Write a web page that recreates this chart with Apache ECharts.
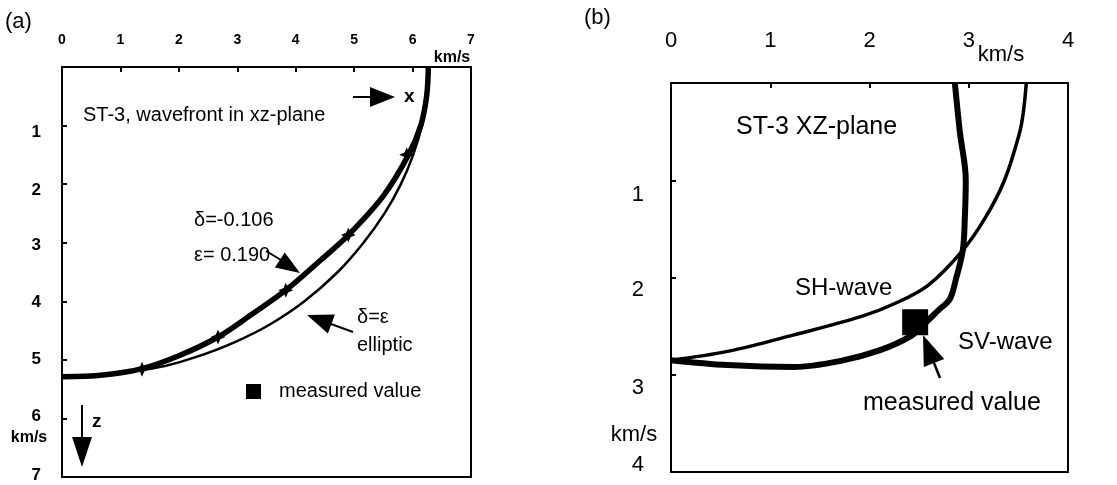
<!DOCTYPE html>
<html>
<head>
<meta charset="utf-8">
<script src="https://cdn.jsdelivr.net/npm/echarts@6/dist/echarts.min.js"></script>
<style>html,body{margin:0;padding:0;background:#fff}#c{width:1117px;height:485px}</style>
</head>
<body>
<div id="c"></div>
<script>
// ---- data ----
const xTicksA = ['0','1','2','3','4','5','6','7'];
const zTicksA = ['','1','2','3','4','5','6','7'];
const xTicksB = ['0','1','2','3','4'];
const zTicksB = ['','1','2','3','4'];

// panel (a): weak-anisotropy wavefront (delta=-0.106, eps=0.190), [x km/s, z km/s]
const anisoA = [[6.27,0],[6.24,0.5],[6.14,1.0],[5.93,1.5],[5.5,2.2],[4.9,2.87],[4.4,3.32],[3.83,3.81],[3.25,4.22],[2.67,4.61],[2.0,4.93],[1.37,5.15],[0.7,5.26],[0,5.29]];
// panel (a): elliptic wavefront (delta = eps)
const ellipticA = [[6.27,0],[6.24,0.5],[6.16,1.0],[6.01,1.5],[5.8,2.0],[5.52,2.5],[5.16,3.0],[4.72,3.5],[4.15,4.0],[3.55,4.4],[2.95,4.7],[2.3,4.95],[1.78,5.1],[1.2,5.2],[0.6,5.27],[0,5.29]];
// panel (a): markers on the anisotropic curve
const starsA = [[5.9,1.5],[4.9,2.87],[3.83,3.81],[2.67,4.61],[1.37,5.16]];

// panel (b): SV-wave and SH-wave wavefronts
const svB = [[2.86,0],[2.91,0.5],[2.97,1.0],[2.96,1.4],[2.94,1.72],[2.87,2.02],[2.81,2.22],[2.69,2.34],[2.55,2.48],[2.42,2.6],[2.1,2.75],[1.7,2.86],[1.24,2.92],[0.57,2.9],[0,2.85]];
const shB = [[3.58,0],[3.55,0.3],[3.51,0.52],[3.36,1.0],[3.17,1.38],[2.94,1.72],[2.59,2.08],[2.25,2.27],[1.92,2.4],[1.24,2.59],[0.57,2.76],[0,2.85]];
const measuredB = [[2.46,2.46]];

// ---- chart ----
const FONT = "'Liberation Sans', Arial, Helvetica, sans-serif";
const chart = echarts.init(document.getElementById('c'), null, {renderer: 'canvas'});

// per-label vertical nudges (scan layout)
const offA = [0, 7, 6, 3, 1, -1, -2, -2];
const offB = [0, 15, 12, 13, -7];
function richFor(offs, font) {
  const r = {};
  offs.forEach((o, i) => {
    r['o' + i] = Object.assign({}, font, {
      padding: o >= 0 ? [2 * o, 0, 0, 0] : [0, 0, -2 * o, 0]
    });
  });
  return r;
}
const yFontA = {fontFamily: FONT, fontSize: 17, fontWeight: 'bold', color: '#000'};
const yFontB = {fontFamily: FONT, fontSize: 22, color: '#000'};

function txt(text, x, y, size, opts) {
  opts = opts || {};
  return {
    type: 'text', z: 100,
    style: {
      text: text, x: x, y: y,
      font: (opts.bold ? 'bold ' : '') + size + 'px ' + FONT,
      fill: '#000', align: opts.align || 'left', verticalAlign: 'middle'
    }
  };
}
function poly(points) {
  return {type: 'polygon', z: 100, shape: {points: points}, style: {fill: '#000'}};
}
function seg(points, w) {
  return {type: 'polyline', z: 100, shape: {points: points}, style: {stroke: '#000', lineWidth: w || 2, fill: null}};
}

const option = {
  animation: false,
  backgroundColor: '#fff',
  grid: [
    {left: 62, top: 67, width: 409, height: 410, show: true, borderColor: '#000', borderWidth: 2, backgroundColor: 'transparent'},
    {left: 671, top: 83, width: 397, height: 389, show: true, borderColor: '#000', borderWidth: 2, backgroundColor: 'transparent'}
  ],
  xAxis: [
    {gridIndex: 0, type: 'value', position: 'top', min: 0, max: 7, interval: 1,
     axisLine: {show: false}, splitLine: {show: false},
     axisTick: {show: true, inside: true, length: 5, lineStyle: {color: '#000', width: 2}},
     axisLabel: {margin: 20, fontFamily: FONT, fontSize: 14, fontWeight: 'bold', color: '#000',
       formatter: v => xTicksA[Math.round(v)]}},
    {gridIndex: 1, type: 'value', position: 'top', min: 0, max: 4, interval: 1,
     axisLine: {show: false}, splitLine: {show: false},
     axisTick: {show: true, inside: true, length: 5, lineStyle: {color: '#000', width: 2}},
     axisLabel: {margin: 31, fontFamily: FONT, fontSize: 22, color: '#000',
       formatter: v => xTicksB[Math.round(v)]}}
  ],
  yAxis: [
    {gridIndex: 0, type: 'value', inverse: true, min: 0, max: 7, interval: 1,
     axisLine: {show: false}, splitLine: {show: false},
     axisTick: {show: true, inside: true, length: 5, lineStyle: {color: '#000', width: 2}},
     axisLabel: {margin: 21, rich: richFor(offA, yFontA), fontFamily: FONT, fontSize: 17, fontWeight: 'bold', color: '#000',
       formatter: v => { const i = Math.round(v); return zTicksA[i] ? '{o' + i + '|' + zTicksA[i] + '}' : ''; }}},
    {gridIndex: 1, type: 'value', inverse: true, min: 0, max: 4, interval: 1,
     axisLine: {show: false}, splitLine: {show: false},
     axisTick: {show: true, inside: true, length: 5, lineStyle: {color: '#000', width: 2}},
     axisLabel: {margin: 27, rich: richFor(offB, yFontB), fontFamily: FONT, fontSize: 22, color: '#000',
       formatter: v => { const i = Math.round(v); return zTicksB[i] ? '{o' + i + '|' + zTicksB[i] + '}' : ''; }}}
  ],
  series: [
    {type: 'line', xAxisIndex: 0, yAxisIndex: 0, data: ellipticA, smooth: 0.35, showSymbol: false,
     lineStyle: {color: '#000', width: 2.5}},
    {type: 'line', xAxisIndex: 0, yAxisIndex: 0, data: anisoA, smooth: 0.35, showSymbol: false,
     lineStyle: {color: '#000', width: 5.5}},
    {type: 'scatter', xAxisIndex: 0, yAxisIndex: 0, data: starsA,
     symbol: 'path://M0,-10 L3,-3 L10,0 L3,3 L0,10 L-3,3 L-10,0 L-3,-3 Z', symbolSize: 15,
     itemStyle: {color: '#000', opacity: 1}, z: 5},
    {type: 'line', xAxisIndex: 1, yAxisIndex: 1, data: shB, smooth: 0.35, showSymbol: false,
     lineStyle: {color: '#000', width: 3.5}},
    {type: 'line', xAxisIndex: 1, yAxisIndex: 1, data: svB, smooth: 0.35, showSymbol: false,
     lineStyle: {color: '#000', width: 6}},
    {type: 'scatter', xAxisIndex: 1, yAxisIndex: 1, data: measuredB, symbol: 'rect', symbolSize: [26, 26],
     itemStyle: {color: '#000', opacity: 1}, z: 5}
  ],
  graphic: [
    // panel (a)
    txt('(a)', 5, 22, 22),
    txt('km/s', 452, 58, 16, {bold: true, align: 'center'}),
    txt('km/s', 29, 438, 16, {bold: true, align: 'center'}),
    txt('ST-3, wavefront in xz-plane', 83, 115, 20),
    seg([[353, 97], [372, 97]], 2),
    poly([[370, 87], [395, 97], [370, 107]]),
    txt('x', 404, 97, 19, {bold: true}),
    txt('δ=-0.106', 194, 220, 20),
    txt('ε= 0.190', 194, 255, 20),
    seg([[266, 251], [281, 260]], 2),
    poly([[274.9, 267.6], [300, 273], [284.7, 252.4]]),
    txt('δ=ε', 357, 317, 20),
    txt('elliptic', 357, 345, 20),
    seg([[353, 332], [331, 324]], 2),
    poly([[334.9, 314.6], [307, 315], [327.9, 333.4]]),
    {type: 'rect', z: 100, shape: {x: 246, y: 384, width: 15, height: 15}, style: {fill: '#000'}},
    txt('measured value', 279, 391, 20),
    seg([[82, 405], [82, 440]], 2),
    poly([[72, 437], [92, 437], [82, 467]]),
    txt('z', 92, 422, 19, {bold: true}),
    // panel (b)
    txt('(b)', 584, 18, 22),
    txt('km/s', 1001, 55, 22, {align: 'center'}),
    txt('km/s', 634, 435, 22, {align: 'center'}),
    txt('ST-3 XZ-plane', 736, 127, 25),
    txt('SH-wave', 795, 288, 24),
    txt('SV-wave', 958, 342, 24),
    txt('measured value', 863, 403, 25),
    seg([[934, 363], [940, 378]], 2.5),
    poly([[944.2, 359], [923, 335], [923.8, 367]])
  ]
};
chart.setOption(option);
</script>
</body>
</html>
